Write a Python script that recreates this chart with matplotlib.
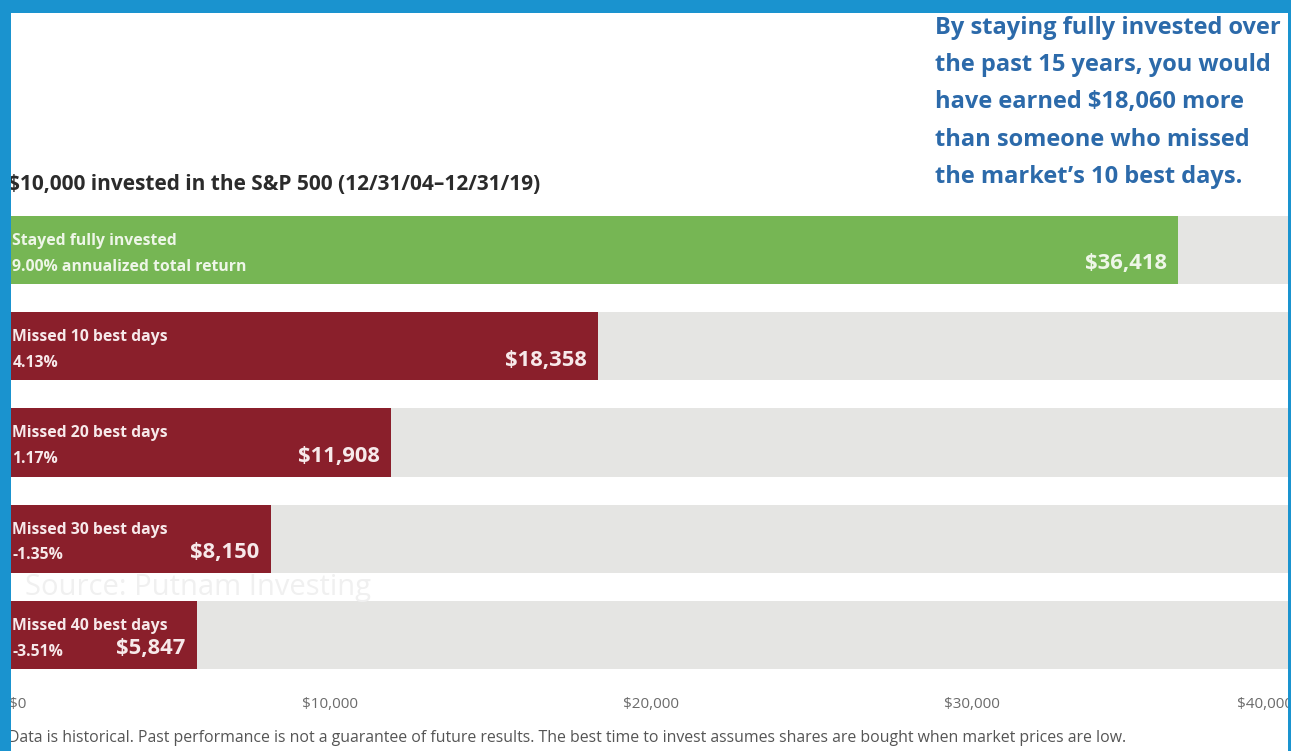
import matplotlib.pyplot as plt
from matplotlib.patches import Rectangle

# values
SCENARIOS = [
    "Stayed fully invested",
    "Missed 10 best days",
    "Missed 20 best days",
    "Missed 30 best days",
    "Missed 40 best days",
]
RETURNS = ["9.00% annualized total return", "4.13%", "1.17%", "-1.35%", "-3.51%"]
ENDING_VALUES = [36418, 18358, 11908, 8150, 5847]
X_MAX = 40000
X_TICKS = [0, 10000, 20000, 30000, 40000]
X_TICK_LABELS = ["$0", "$10,000", "$20,000", "$30,000", "$40,000"]

TITLE = "$10,000 invested in the S&P 500 (12/31/04\u201312/31/19)"
CALLOUT = [
    "By staying fully invested over",
    "the past 15 years, you would",
    "have earned $18,060 more",
    "than someone who missed",
    "the market\u2019s 10 best days.",
]
FOOTNOTE = ("Data is historical. Past performance is not a guarantee of future results. "
            "The best time to invest assumes shares are bought when market prices are low.")
WATERMARK = "Source: Putnam Investing"

GREEN = "#76b654"
RED = "#8a1f2b"
TRACK = "#e5e5e3"
BORDER = "#1a93cf"
CALLOUT_BLUE = "#2c6aaa"

plt.rcParams["font.family"] = ["Open Sans", "DejaVu Sans"]

W, H = 1291, 751
fig = plt.figure(figsize=(W / 100, H / 100), dpi=100)
fig.patch.set_facecolor("white")

# axes: x=0 sits just under the left frame, x=40000 at the right edge
ax = fig.add_axes([9 / W, 1 - 683 / H, 1284 / W, 481 / H])
ypos = list(range(len(SCENARIOS)))
colors = [GREEN] + [RED] * (len(SCENARIOS) - 1)

ax.barh(ypos, [X_MAX] * len(ypos), height=0.71, color=TRACK, zorder=1)
ax.barh(ypos, ENDING_VALUES, height=0.71, color=colors, zorder=2)
ax.set_xlim(0, X_MAX)
ax.set_ylim(len(ypos) - 0.5, -0.5)
ax.set_yticks([])
for s in ax.spines.values():
    s.set_visible(False)

ax.set_xticks(X_TICKS)
ax.set_xticklabels(X_TICK_LABELS, color="#6b6b6b", fontsize=11)
ax.tick_params(axis="x", length=0, pad=10)
labels = ax.get_xticklabels()
labels[0].set_ha("left")
labels[-1].set_ha("right")

for y, name, ret, val, c in zip(ypos, SCENARIOS, RETURNS, ENDING_VALUES, colors):
    txt_col = "#eef6e8" if c == GREEN else "#f7e9ea"
    ax.annotate(name, (0, y), xytext=(2.5, 6.5), textcoords="offset points",
                ha="left", va="center", fontsize=11.3, fontweight="bold",
                color=txt_col, zorder=3)
    ax.annotate(ret, (0, y), xytext=(2.5, -12), textcoords="offset points",
                ha="left", va="center", fontsize=11.3, fontweight="bold",
                color=txt_col, zorder=3)
    ax.annotate(f"${val:,}", (val, y), xytext=(-8, -10), textcoords="offset points",
                ha="right", va="center", fontsize=15.8, fontweight="bold",
                color=txt_col, zorder=3)

# faint watermark between the 4th and 5th bar
fig.text(25 / W, 1 - 588 / H, WATERMARK, fontsize=21, color="#f0f0f0",
         ha="left", va="center", zorder=5)

fig.text(8 / W, 1 - 184 / H, TITLE, fontsize=15, fontweight="bold",
         color="#2b2b2b", ha="left", va="center")

for i, line in enumerate(CALLOUT):
    fig.text(935 / W, 1 - (28 + 37.2 * i) / H, line, fontsize=17,
             fontweight="bold", color=CALLOUT_BLUE, ha="left", va="center")

fig.text(8 / W, 1 - 738 / H, FOOTNOTE, fontsize=11.4, color="#555555",
         ha="left", va="center")

# blue frame (top, left, right edges)
for rect in [(0, 1 - 13 / H, 1, 13 / H), (0, 0, 11 / W, 1), (1 - 3 / W, 0, 3 / W, 1)]:
    fig.add_artist(Rectangle(rect[:2], rect[2], rect[3], transform=fig.transFigure,
                             facecolor=BORDER, edgecolor="none", zorder=20))

fig.savefig("out.png", dpi=100)
